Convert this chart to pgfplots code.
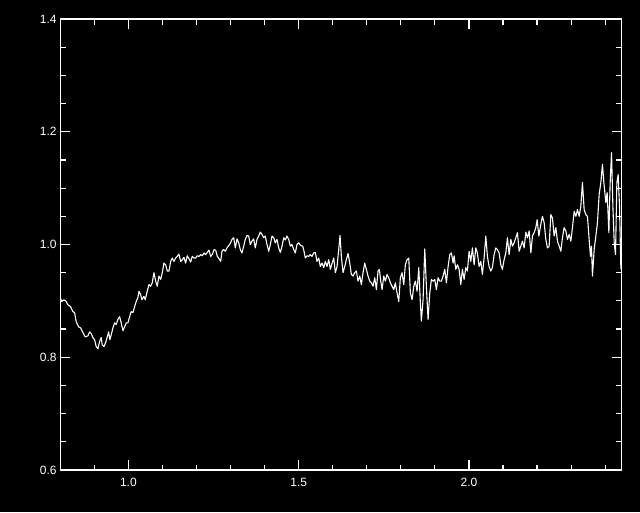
\documentclass[border=0pt]{standalone}
\usepackage{fontspec}
\setmainfont{Liberation Sans}
\usepackage{pgfplots}
\pgfplotsset{compat=1.18}
\begin{document}
\begin{tikzpicture}
\fill[black] (0,0) rectangle (640pt,512pt);
\begin{axis}[
  at={(60.3pt,42pt)}, anchor=south west,
  width=561.2pt, height=451pt, scale only axis,
  xmin=0.8, xmax=2.448, ymin=0.6, ymax=1.4,
  axis line style={white, line width=1.2pt},
  xtick={1.0,1.5,2.0}, xticklabels={1.0,1.5,2.0},
  ytick={0.6,0.8,1.0,1.2,1.4}, yticklabels={0.6,0.8,1.0,1.2,1.4},
  minor xtick={0.9,1.1,1.2,1.3,1.4,1.6,1.7,1.8,1.9,2.1,2.2,2.3,2.4},
  minor ytick={0.65,0.7,0.75,0.85,0.9,0.95,1.05,1.1,1.15,1.25,1.3,1.35},
  major tick length=10pt, minor tick length=5.5pt,
  every tick/.style={white, line width=1.2pt},
  tick label style={white, font=\fontsize{12}{13}\selectfont},
  xticklabel style={inner sep=0pt, yshift=-8pt},
  yticklabel style={inner sep=0pt, xshift=-3.5pt},
]
\addplot[white, line width=1.1pt, line join=round, mark=none] coordinates {
(0.8009,0.9035)(0.8047,0.899)(0.8106,0.902)(0.8173,0.899)(0.8223,0.893)(0.8297,0.890)(0.837,0.881)(0.842,0.879)(0.8467,0.863)(0.8538,0.854)(0.8596,0.852)(0.8664,0.844)(0.8732,0.836)(0.8811,0.838)(0.8861,0.845)(0.8908,0.842)(0.8958,0.835)(0.9008,0.831)(0.9055,0.819)(0.9105,0.815)(0.9155,0.828)(0.9202,0.835)(0.9231,0.822)(0.9281,0.819)(0.9331,0.826)(0.9378,0.836)(0.9419,0.845)(0.9457,0.831)(0.9495,0.840)(0.9545,0.852)(0.9595,0.861)(0.9642,0.858)(0.9692,0.867)(0.9742,0.872)(0.9789,0.861)(0.9839,0.847)(0.9889,0.854)(0.9936,0.861)(0.9986,0.861)(1.0036,0.872)(1.0083,0.881)(1.0133,0.879)(1.0183,0.890)(1.0230,0.899)(1.0280,0.906)
(1.0309,0.917)(1.0359,0.911)(1.0397,0.902)(1.0456,0.908)(1.0494,0.902)(1.0553,0.917)(1.0603,0.929)(1.0653,0.926)(1.0700,0.932)(1.0750,0.950)(1.0800,0.935)(1.0847,0.926)(1.0897,0.944)(1.0947,0.938)(1.0994,0.950)(1.1044,0.967)(1.1094,0.964)(1.1141,0.953)(1.1191,0.953)(1.1241,0.970)(1.1288,0.976)(1.1338,0.970)(1.1387,0.976)(1.1434,0.979)(1.1484,0.983)(1.1534,0.970)(1.1581,0.973)(1.1631,0.977)(1.1681,0.967)(1.1728,0.980)(1.1778,0.975)(1.1828,0.969)(1.1875,0.979)(1.1925,0.976)(1.1975,0.976)(1.2022,0.980)(1.2072,0.979)(1.2122,0.982)(1.2169,0.980)(1.2219,0.985)(1.2269,0.982)(1.2316,0.986)(1.2366,0.990)(1.2416,0.979)(1.2463,0.982)(1.2513,0.991)(1.2563,0.990)(1.2610,0.979)(1.2660,0.975)
(1.2710,0.970)(1.2748,0.988)(1.2798,0.991)(1.2845,0.988)(1.2895,0.994)(1.2945,0.998)(1.2992,1.002)(1.3042,1.009)(1.3092,1.012)(1.3139,0.994)(1.3189,1.010)(1.3238,1.003)(1.3285,0.991)(1.3335,0.985)(1.3385,0.997)(1.3432,1.009)(1.3482,1.016)(1.3532,1.015)(1.3579,1.000)(1.3629,1.006)(1.3679,1.010)(1.3726,0.994)(1.3776,1.009)(1.3826,1.015)(1.3873,1.022)(1.3923,1.018)(1.3973,1.012)(1.4020,1.015)(1.4070,1.000)(1.4120,0.988)(1.4167,1.000)(1.4217,1.015)(1.4267,1.012)(1.4314,1.003)(1.4364,1.009)(1.4414,0.994)(1.4461,0.986)(1.4511,0.997)(1.4560,1.012)(1.4607,1.008)(1.4657,1.015)(1.4707,1.009)(1.4754,0.997)(1.4804,1.000)(1.4854,0.991)(1.4901,0.985)(1.4951,1.000)(1.5001,1.003)
(1.5060,0.998)(1.5119,0.997)(1.5157,0.988)(1.5195,0.976)(1.5245,0.980)(1.5295,0.979)(1.5342,0.982)(1.5392,0.979)(1.5442,0.985)(1.5489,0.986)(1.5539,0.970)(1.5589,0.976)(1.5636,0.961)(1.5686,0.967)(1.5736,0.959)(1.5783,0.970)(1.5833,0.961)(1.5883,0.973)(1.5930,0.956)(1.5980,0.967)(1.6030,0.976)(1.6077,0.950)(1.6127,0.961)(1.6176,0.991)(1.6215,1.016)(1.6253,0.979)(1.6303,0.950)(1.6353,0.961)(1.6400,0.973)(1.6450,0.984)(1.6500,0.967)(1.6547,0.947)(1.6597,0.944)(1.6647,0.950)(1.6694,0.953)(1.6743,0.935)(1.6793,0.944)(1.6840,0.929)(1.6890,0.950)(1.6940,0.967)(1.6987,0.956)(1.7037,0.944)(1.7087,0.935)(1.7134,0.932)(1.7184,0.926)(1.7234,0.941)(1.7281,0.920)(1.7331,0.953)(1.7369,0.956)
(1.7410,0.935)(1.7449,0.920)(1.7499,0.944)(1.7545,0.935)(1.7595,0.947)(1.7645,0.941)(1.7692,0.932)(1.7742,0.926)(1.7792,0.920)(1.7839,0.932)(1.7889,0.914)(1.7939,0.899)(1.7986,0.941)(1.8036,0.950)(1.8086,0.929)(1.8133,0.964)(1.8183,0.973)(1.8233,0.976)(1.8280,0.914)(1.8330,0.902)(1.8380,0.926)(1.8427,0.935)(1.8477,0.917)(1.8527,0.959)(1.8574,0.896)(1.8603,0.864)(1.8653,0.902)(1.8703,0.992)(1.8750,0.926)(1.8800,0.867)(1.8850,0.914)(1.8897,0.938)(1.8947,0.935)(1.8997,0.938)(1.9044,0.920)(1.9094,0.941)(1.9144,0.935)(1.9191,0.935)(1.9241,0.944)(1.9291,0.956)(1.9338,0.932)(1.9388,0.961)(1.9438,0.982)(1.9485,0.985)(1.9535,0.967)(1.9564,0.980)(1.9614,0.956)(1.9661,0.964)(1.9711,0.956)
(1.9761,0.929)(1.9808,0.956)(1.9858,0.938)(1.9908,0.959)(1.9955,0.953)(2.0005,0.988)(2.0055,0.970)(2.0102,0.994)(2.0152,0.964)(2.0201,0.994)(2.0248,0.985)(2.0298,0.961)(2.0348,0.970)(2.0395,0.947)(2.0445,0.976)(2.0495,1.015)(2.0542,0.979)(2.0592,0.961)(2.0642,0.953)(2.0689,0.959)(2.0739,0.982)(2.0789,0.994)(2.0836,0.991)(2.0886,0.985)(2.0936,0.964)(2.0983,0.956)(2.1033,0.973)(2.1083,0.985)(2.1130,1.012)(2.1180,0.982)(2.1230,1.009)(2.1277,0.997)(2.1327,1.003)(2.1377,1.012)(2.1424,1.021)(2.1474,0.988)(2.1524,0.997)(2.1571,1.006)(2.1621,0.994)(2.1671,1.022)(2.1718,1.012)(2.1768,1.024)(2.1818,0.985)(2.1865,1.015)(2.1915,1.021)(2.1964,1.030)(2.2003,1.044)(2.2053,1.015)
(2.2111,1.036)(2.2158,1.050)(2.2208,1.039)(2.2258,1.009)(2.2305,0.994)(2.2355,0.997)(2.2405,1.053)(2.2452,1.047)(2.2502,1.015)(2.2552,1.030)(2.2599,1.006)(2.2649,0.997)(2.2699,0.988)(2.2746,1.012)(2.2796,1.030)(2.2846,1.024)(2.2893,1.009)(2.2943,1.018)(2.2993,1.006)(2.3040,1.030)(2.3090,1.059)(2.3140,1.050)(2.3187,1.062)(2.3236,1.050)(2.3286,1.068)(2.3333,1.110)(2.3383,1.062)(2.3433,1.053)(2.3480,1.050)(2.3530,1.009)(2.3568,0.979)(2.3598,0.997)(2.3627,0.944)(2.3677,0.991)(2.3727,1.015)(2.3774,1.039)(2.3824,1.089)(2.3874,1.110)(2.3921,1.142)(2.3962,1.110)(2.4021,1.074)(2.4059,1.092)(2.4109,1.021)(2.4147,1.110)(2.4187,1.163)(2.4227,1.068)(2.4266,1.003)(2.4304,0.982)(2.4344,1.110)(2.4382,1.124)(2.4421,1.068)(2.4462,0.956)
};
\end{axis}
\end{tikzpicture}
\end{document}
